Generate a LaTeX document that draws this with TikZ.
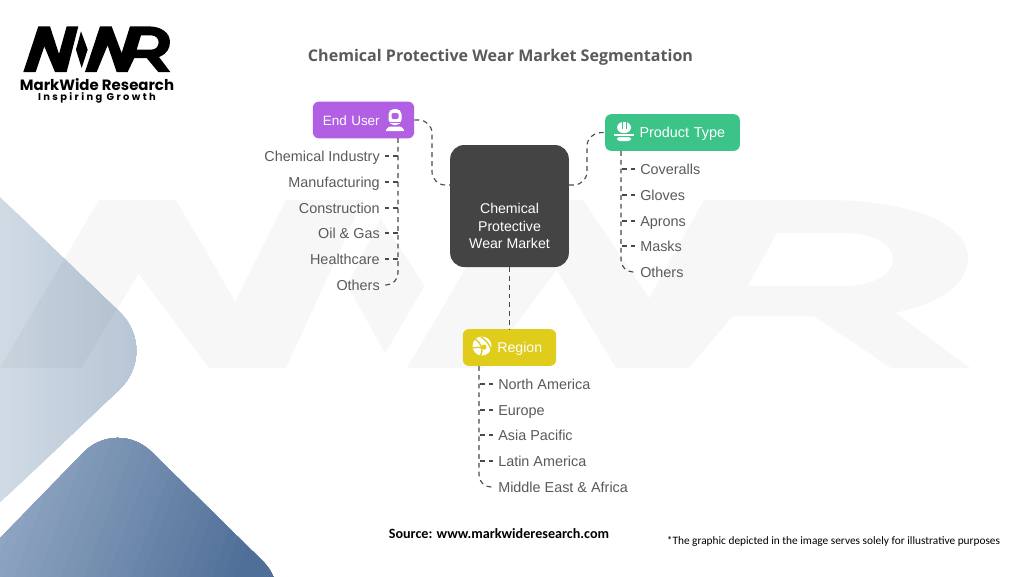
\documentclass[tikz,border=0pt]{standalone}
\usepackage{fontspec}
\setmainfont{Liberation Sans}
\newfontfamily\titlefont{Open Sans}
\newfontfamily\logofont{Poppins}
\newfontfamily\notefont{Carlito}
\newfontfamily\taglinefont[LetterSpace=24]{Poppins}
\definecolor{markettone}{HTML}{444444}
\definecolor{usertone}{HTML}{B15FE3}
\definecolor{typetone}{HTML}{3CC387}
\definecolor{regiontone}{HTML}{E0CD1B}
\definecolor{itemtone}{HTML}{5A5A5A}
\definecolor{linktone}{HTML}{4A4A4A}
\definecolor{palestart}{HTML}{CFDAE4}
\definecolor{paleend}{HTML}{B6C5D5}
\definecolor{deepstart}{HTML}{98ADC7}
\definecolor{deepend}{HTML}{4F6F98}
\tikzset{
    headbox/.style={rounded corners=4.5pt, text=white, font=\fontsize{10.6}{13}\selectfont, minimum height=27.5pt, inner sep=0pt, text height=8pt, text depth=0pt},
    marketbox/.style={fill=markettone, rounded corners=10.5pt, minimum width=89pt, minimum height=91.5pt},
    markettext/.style={text=white, align=center, font=\fontsize{10.6}{13}\selectfont},
    itemleft/.style={anchor=east, text=itemtone, font=\fontsize{10.8}{13}\selectfont, inner sep=0pt, text height=8pt, text depth=0pt},
    itemright/.style={anchor=west, text=itemtone, font=\fontsize{10.8}{13}\selectfont, inner sep=0pt, text height=8pt, text depth=0pt},
    link/.style={draw=linktone, line width=0.85pt, dash pattern=on 3.6pt off 3pt}
}
% logo strokes, in units of a 3x crop
\newcommand{\mwrmark}{
    \fill (25,162) -- (62,162) -- (88,85) -- (120,162) -- (155,162) -- (190,25) -- (155,25) -- (132,108) -- (105,25) -- (70,25) -- cycle;
    \fill (198,40) -- (218,95) -- (200,150) -- (183,95) -- cycle;
    \fill[even odd rule] (210,162) -- (245,162) -- (278,82) -- (305,162) -- (338,162) -- (358,120) -- (395,120) -- (430,162) -- (466,162) -- (432,117) .. controls (455,108) and (465,92) .. (465,72) .. controls (465,45) and (440,25) .. (400,25) -- (345,25) -- (320,105) -- (290,25) -- (255,25) -- cycle
        (378,52) -- (408,52) .. controls (423,52) and (431,62) .. (431,73) .. controls (431,85) and (423,95) .. (408,95) -- (365,95) -- cycle;
}
\begin{document}
\begin{tikzpicture}[x=0.75pt, y=-0.75pt]
    \useasboundingbox (0,0) rectangle (1024,576);
    \fill[white] (0,0) rectangle (1024,576);

    % Corner shapes
    \begin{scope}
        \clip[rounded corners=42pt] (-100,101) -- (160,351) -- (-100,597) -- cycle;
        \foreach \k in {0,4,...,100}
            \fill[paleend!\k!palestart] (\k*1.4,190) rectangle (200,510);
    \end{scope}
    \begin{scope}
        \clip (0,0) rectangle (1024,576);
        \clip[rounded corners=36pt] (117,418) -- (297,595) -- (117,780) -- (-150,692) -- cycle;
        \foreach \k in {0,4,...,100}
            \fill[deepend!\k!deepstart] (\k*2.9,430) -- (400,430) -- (400,590) -- (\k*2.9-60,590) -- cycle;
    \end{scope}

    % Watermark
    \begin{scope}[xshift=-41.25pt, yshift=-127pt, xscale=2.2, yscale=1.226, fill opacity=0.03]
        \mwrmark
    \end{scope}

    % Logo
    \begin{scope}[xshift=11.25pt, yshift=-13.5pt, xscale=0.3333, yscale=0.3333]
        \mwrmark
    \end{scope}
    \node[font=\logofont\bfseries\fontsize{11.2}{13}\selectfont, inner sep=0pt] (brand) at (97,85) {MarkWide Research};
    \node[font=\taglinefont\bfseries\fontsize{7.4}{9}\selectfont, inner sep=0pt] (tagline) at (97,98) {Inspiring Growth};

    % Title
    \node[font=\titlefont\bfseries\fontsize{12.05}{15}\selectfont, text=itemtone, inner sep=0pt] (title) at (500.5,57) {Chemical Protective Wear Market Segmentation};

    % Market
    \node[marketbox, label={[markettext, yshift=-15pt]center:Chemical\\Protective\\Wear Market}] (market) at (509.5,206) {};
    \coordinate (userport) at (450,185);
    \coordinate (typeport) at (569,185);

    % End user
    \node[headbox, fill=usertone, minimum width=76pt, text width=61pt, align=left, font=\fontsize{10.1}{13}\selectfont] (enduser) at (363.5,120) {End User};
    \coordinate (usertrunk) at (398,138);
    \coordinate (userturn) at (432,120);
    \draw[link, rounded corners=10pt] (enduser.east) -- (userturn) -- (userturn |- userport) -- (userport);
    \foreach \name/\row/\label in {a/156/Chemical Industry, b/182/Manufacturing, c/208/Construction, d/233/Oil \& Gas, e/259/Healthcare, f/285/Others}
        \node[itemleft] (user\name) at (380,\row) {\label};
    \draw[link, rounded corners=9pt] (usertrunk) |- ([xshift=3.5pt]userf.east);
    \foreach \name in {a,...,e}
        \draw[link] ([xshift=3.5pt]user\name.east) -- (user\name.east -| usertrunk);

    % Product type
    \node[headbox, fill=typetone, minimum width=101pt, text width=79pt, align=right, font=\fontsize{10.8}{13}\selectfont] (product) at (672.5,132.5) {Product Type};
    \coordinate (typetrunk) at (621,151);
    \coordinate (typeturn) at (587,133);
    \draw[link, rounded corners=10pt] (typeport) -- (typeturn |- typeport) -- (typeturn) -- (product.west);
    \foreach \name/\row/\label in {a/169/Coveralls, b/195/Gloves, c/221/Aprons, d/246/Masks, e/272/Others}
        \node[itemright] (type\name) at (640,\row) {\label};
    \draw[link, rounded corners=9pt] (typetrunk) |- ([xshift=-3.5pt]typee.west);
    \foreach \name in {a,...,d}
        \draw[link] ([xshift=-3.5pt]type\name.west) -- (type\name.west -| typetrunk);

    % Region
    \node[headbox, fill=regiontone, minimum width=70pt, text width=49pt, align=right] (region) at (509.5,347.5) {Region};
    \coordinate (regiontrunk) at (479,366);
    \draw[link] (market.south) -- (market.south |- region.north);
    \foreach \name/\row/\label in {a/384/North America, b/410/Europe, c/435/Asia Pacific, d/461/Latin America, e/487/Middle East \& Africa}
        \node[itemright] (region\name) at (498,\row) {\label};
    \draw[link, rounded corners=9pt] (regiontrunk) |- ([xshift=-3.5pt]regione.west);
    \foreach \name in {a,...,d}
        \draw[link] ([xshift=-3.5pt]region\name.west) -- (region\name.west -| regiontrunk);

    % Icons
    \fill[white, rounded corners=4pt] (388.5,125) -- (388.5,109) -- (401.5,109) -- (401.5,125) -- cycle;
    \fill[usertone, rounded corners=1pt] (391.5,113) rectangle (398.5,119);
    \fill[usertone] (388.5,121.5) rectangle (401.5,122.5);
    \fill[white, rounded corners=1pt] (389,126.5) -- (401,126.5) -- (405,131) -- (385,131) -- cycle;
    \fill[white, rounded corners=4.5pt] (617,133) -- (617,122) -- (631,122) -- (631,133) -- cycle;
    \fill[typetone] (621.5,122) rectangle (622.5,129);
    \fill[typetone] (625.5,122) rectangle (626.5,129);
    \fill[white] (614,134) rectangle (634,135.5);
    \fill[white, rounded corners=2pt] (617,137) -- (631,137) -- (631,141) -- (617,141) -- cycle;
    \fill[white] (482,346) circle (9.5);
    \draw[regiontone, line width=1pt] (475,339) .. controls (482,344) and (484,350) .. (480,356);
    \draw[regiontone, line width=1pt] (481,337) .. controls (486,340) and (490,345) .. (491,350);
    \draw[regiontone, line width=1pt] (473,348) .. controls (477,347) and (481,347) .. (485,349);
    \fill[regiontone] (484,347) circle (2.5);

    % Notes
    \node[font=\notefont\bfseries\fontsize{10.6}{12}\selectfont, inner sep=0pt] (source) at (499,534) {Source: www.markwideresearch.com};
    \node[font=\notefont\fontsize{8.5}{10}\selectfont, inner sep=0pt] (notice) at (833.5,541) {*The graphic depicted in the image serves solely for illustrative purposes};
\end{tikzpicture}
\end{document}
